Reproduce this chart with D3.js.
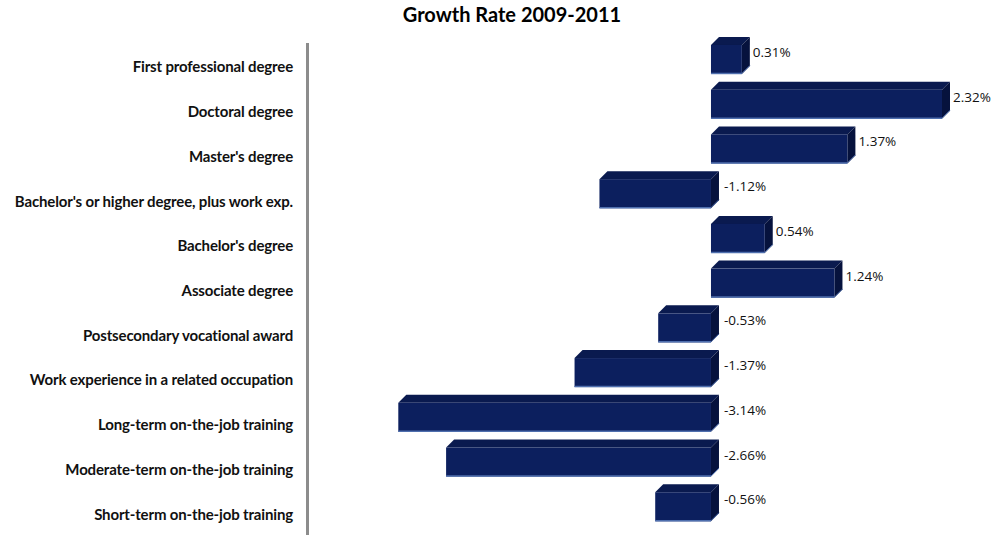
<!DOCTYPE html>
<html><head><meta charset="utf-8">
<script src="https://cdn.jsdelivr.net/npm/d3@7"></script>
<style>body{margin:0;background:#fff}svg{display:block}</style>
</head><body>
<svg id="c" width="1000" height="535"></svg>
<script>
const categories = ["First professional degree","Doctoral degree","Master's degree","Bachelor's or higher degree, plus work exp.","Bachelor's degree","Associate degree","Postsecondary vocational award","Work experience in a related occupation","Long-term on-the-job training","Moderate-term on-the-job training","Short-term on-the-job training"];
const values = [0.31, 2.32, 1.37, -1.12, 0.54, 1.24, -0.53, -1.37, -3.14, -2.66, -0.56];
const valueLabels = ["0.31%","2.32%","1.37%","-1.12%","0.54%","1.24%","-0.53%","-1.37%","-3.14%","-2.66%","-0.56%"];
const title = "Growth Rate 2009-2011";

const svg = d3.select("#c");
const x = d3.scaleLinear().domain([-3.14, 2.32]).range([398.3, 942]);
const y = d3.scaleBand().domain(categories).range([37, 529]).paddingInner(0.2).paddingOuter(0.1);
const dx = 8, dy = 8;
const frontTop = d => y(d) + 3.5;
const h = 29;
const fFront = "#0c1f5e", fTop = "#0a1a4f", fSide = "#06123d", fEdge = "#4f6fae";

svg.append("text").attr("x", 512).attr("y", 22).attr("text-anchor", "middle")
  .attr("font-family", "Lato, 'Open Sans', sans-serif").attr("font-weight", "bold")
  .attr("font-size", 20).attr("fill", "#000").text(title);

// axis line
svg.append("line").attr("x1", 307.5).attr("x2", 307.5).attr("y1", 43).attr("y2", 535)
  .attr("stroke", "#8c8c8c").attr("stroke-width", 3);

// category labels
svg.append("g").selectAll("text").data(categories).join("text")
  .attr("x", 293).attr("y", d => y(d) + y.bandwidth()/2 + 13)
  .attr("text-anchor", "end").attr("font-family", "Lato, sans-serif").attr("font-weight", "bold")
  .attr("font-size", 15).attr("letter-spacing", -0.15).attr("fill", "#111").text(d => d);

const g = svg.append("g");
categories.forEach((c, i) => {
  const v = values[i];
  const x0 = Math.min(x(0), x(v)), x1 = Math.max(x(0), x(v));
  const t = frontTop(c), b = t + h;
  g.append("path").attr("d", `M${x0},${t}L${x0+dx},${t-dy}L${x1+dx},${t-dy}L${x1},${t}Z`).attr("fill", fTop);
  g.append("path").attr("d", `M${x1},${t}L${x1+dx},${t-dy}L${x1+dx},${b-dy}L${x1},${b}Z`).attr("fill", fSide);
  g.append("rect").attr("x", x0).attr("y", t).attr("width", x1-x0).attr("height", h).attr("fill", fFront);
  g.append("line").attr("x1", x0).attr("x2", x1).attr("y1", b-0.5).attr("y2", b-0.5).attr("stroke", fEdge).attr("stroke-width", 1.5);
  g.append("line").attr("x1", x1).attr("x2", x1+dx).attr("y1", b-0.5).attr("y2", b-dy-0.5).attr("stroke", fEdge).attr("stroke-width", 1);
  const lx = v >= 0 ? x1 + dx + 3 : x(0) + dx + 5;
  g.append("text").attr("x", lx).attr("y", t + 12).attr("font-family", "'Open Sans', sans-serif")
    .attr("font-size", 13.5).attr("fill", "#111").text(valueLabels[i]);
});
</script>
</body></html>
